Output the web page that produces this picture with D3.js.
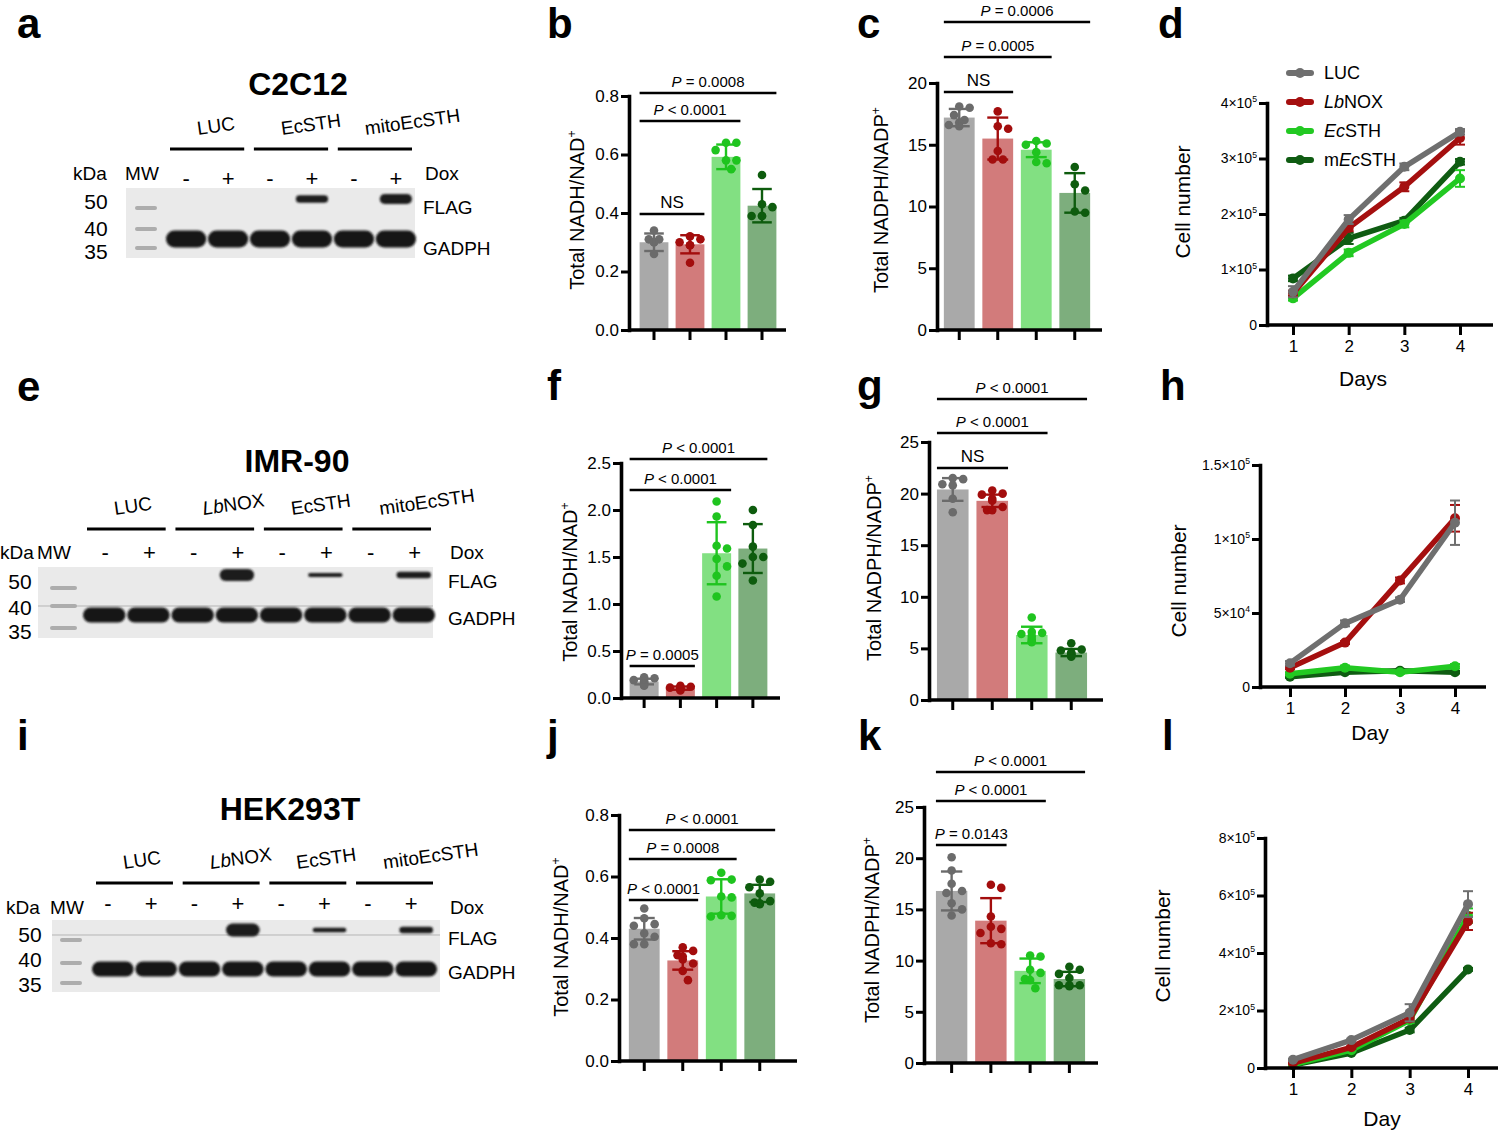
<!DOCTYPE html>
<html><head><meta charset="utf-8">
<script src="https://cdn.jsdelivr.net/npm/d3@7"></script>
<style>body{margin:0;background:#fff}svg{display:block}</style>
</head><body>
<svg id="fig" width="1500" height="1130" font-family="Arial, 'Liberation Sans', sans-serif"></svg>
<script>
// ---------------- DATA ----------------
const groups = ["LUC","LbNOX","EcSTH","mitoEcSTH"];
const legendLabels = ["LUC","*Lb*NOX","*Ec*STH","m*Ec*STH"];

// panel b (C2C12 NADH/NAD+)
const bPoints = [[0.34,0.31,0.31,0.30,0.30,0.26],[0.32,0.31,0.30,0.29,0.29,0.23],[0.64,0.64,0.615,0.58,0.58,0.55],[0.53,0.43,0.42,0.39,0.39,0.39]];
const bMean = [0.30,0.293,0.592,0.425];
const bSD = [0.03,0.031,0.042,0.057];
const bTicks = [0,0.2,0.4,0.6,0.8];
const bP = ["*P* = 0.0008","*P* < 0.0001","NS"];
const bPto = [3,2,1];

// panel c (C2C12 NADPH/NADP+)
const cPoints = [[18.1,18.0,17.4,17.0,16.8,16.6,16.5],[17.7,16.5,16.3,14.5,13.8,13.8],[15.3,15.1,15.0,14.4,13.6,13.5],[13.2,11.8,11.3,9.6,9.5]];
const cMean = [17.2,15.5,14.6,11.1];
const cSD = [0.7,1.7,0.6,1.6];
const cTicks = [0,5,10,15,20];
const cP = ["*P* = 0.0006","*P* = 0.0005","NS"];
const cPto = [3,2,1];

// panel d (C2C12 growth)
const days = [1,2,3,4];
const dLUC = [60000,190000,285000,348000], dLUCerr = [10000,8000,6000,5000];
const dLbNOX = [57000,175000,249000,337000], dLbNOXerr = [5000,6000,8000,12000];
const dEcSTH = [48000,130000,182000,264000], dEcSTHerr = [4000,6000,6000,15000];
const dmEcSTH = [84000,156000,188000,294000], dmEcSTHerr = [5000,10000,5000,5000];
const dTicks = [0,100000,200000,300000,400000];

// panel f (IMR-90 NADH/NAD+)
const fPoints = [[0.22,0.21,0.19,0.18,0.17,0.16,0.14,0.13],[0.13,0.12,0.11,0.11,0.10,0.10,0.09,0.08],[2.09,1.93,1.62,1.59,1.48,1.40,1.30,1.08],[2.0,1.84,1.61,1.50,1.50,1.43,1.25]];
const fMean = [0.175,0.105,1.54,1.59];
const fSD = [0.03,0.017,0.33,0.26];
const fTicks = [0,0.5,1.0,1.5,2.0,2.5];
const fP = ["*P* < 0.0001","*P* < 0.0001","*P* = 0.0005"];
const fPto = [3,2,1];

// panel g (IMR-90 NADPH/NADP+)
const gPoints = [[21.5,21.4,20.9,20.8,19.5,18.2],[20.3,20.0,19.9,19.5,19.3,18.7,18.4,18.4],[8.0,6.6,6.5,6.4,6.2,5.9,5.7,5.6],[5.5,4.9,4.8,4.6,4.5,4.4,4.3,4.2]];
const gMean = [20.4,19.3,6.3,4.6];
const gSD = [1.1,0.6,0.8,0.35];
const gTicks = [0,5,10,15,20,25];
const gP = ["*P* < 0.0001","*P* < 0.0001","NS"];
const gPto = [3,2,1];

// panel h (IMR-90 growth)
const hLUC = [16000,43000,59000,111000], hLUCerr = [1500,2000,1500,15000];
const hLbNOX = [13000,30000,72000,114000], hLbNOXerr = [1000,1000,2000,9000];
const hEcSTH = [9000,13000,10000,14000], hEcSTHerr = [1000,1500,1000,1500];
const hmEcSTH = [7000,10000,11000,10000], hmEcSTHerr = [800,800,800,800];
const hTicks = [0,50000,100000,150000];

// panel j (HEK293T NADH/NAD+)
const jPoints = [[0.496,0.464,0.445,0.44,0.415,0.404,0.38,0.38],[0.37,0.358,0.344,0.34,0.33,0.317,0.293,0.263],[0.612,0.59,0.588,0.535,0.532,0.474,0.472,0.47],[0.59,0.583,0.565,0.545,0.52,0.515,0.513,0.51]];
const jMean = [0.43,0.327,0.535,0.545];
const jSD = [0.035,0.03,0.056,0.028];
const jTicks = [0,0.2,0.4,0.6,0.8];
const jP = ["*P* < 0.0001","*P* = 0.0008","*P* < 0.0001"];
const jPto = [3,2,1];

// panel k (HEK293T NADPH/NADP+)
const kPoints = [[20.1,18.8,17.5,16.8,16.6,15.6,15.0,14.4],[17.4,17.1,14.3,13.3,13.1,12.7,11.7,11.6],[10.5,10.4,9.1,8.8,8.2,8.1,7.3],[9.4,9.1,8.7,8.3,7.6,7.6,7.5,7.6]];
const kMean = [16.8,13.9,9.0,8.2];
const kSD = [1.9,2.2,1.2,0.7];
const kTicks = [0,5,10,15,20,25];
const kP = ["*P* < 0.0001","*P* < 0.0001","*P* = 0.0143"];
const kPto = [3,2,1];

// panel l (HEK293T growth)
const lLUC = [29000,97000,192000,570000], lLUCerr = [3000,5000,30000,45000];
const lLbNOX = [17000,72000,172000,510000], lLbNOXerr = [2000,5000,10000,30000];
const lEcSTH = [12000,62000,166000,530000], lEcSTHerr = [2000,4000,10000,25000];
const lmEcSTH = [10000,52000,132000,343000], lmEcSTHerr = [2000,3000,8000,5000];
const lTicks = [0,200000,400000,600000,800000];

// western blots
const doxSigns = ["-","+"];
const mwLabels = ["50","40","35"];
const aGroups = ["LUC","EcSTH","mitoEcSTH"];
const aFlag = [0,0,0,0.75,0,1.0];
const eGroups = ["LUC","*Lb*NOX","EcSTH","mitoEcSTH"];
const eFlag = [0,0,0,1.0,0,0.35,0,0.55];
const iGroups = ["LUC","*Lb*NOX","EcSTH","mitoEcSTH"];
const iFlag = [0,0,0,1.0,0,0.35,0,0.5];

// ---------------- STYLE ----------------
const barFill = ["#a9a9a9","#d27b7b","#82e082","#7dae7d"];
const dotCol = ["#6b6b6b","#a30d0d","#1fc41f","#0e5c0e"];
const lineCol = ["#6f6f6f","#a50f0f","#22c922","#0f5c12"];

const svg = d3.select("#fig");

function rich(sel, str, fs) {
  const parts = str.split(/(\*[^*]+\*|\^[^^]+\^)/).filter(s => s.length);
  let shifted = 0;
  parts.forEach(p => {
    const ts = sel.append("tspan");
    if (p[0] === "*") {
      ts.text(p.slice(1, -1)).attr("font-style", "italic");
      if (shifted) { ts.attr("dy", shifted); shifted = 0; }
    } else if (p[0] === "^") {
      ts.text(p.slice(1, -1)).attr("font-size", fs * 0.62).attr("dy", -fs * 0.42);
      shifted = fs * 0.42;
    } else {
      ts.text(p);
      if (shifted) { ts.attr("dy", shifted); shifted = 0; }
    }
  });
  return sel;
}

// panel letters
const letters = [["a",17,38],["b",547,38],["c",857,38],["d",1158,38],["e",17,401],["f",547,400],["g",857,400],["h",1160,400],["i",17,750],["j",547,750],["k",858,750],["l",1162,750]];
svg.selectAll("text.letter").data(letters).join("text").attr("class","letter")
  .attr("x", d => d[1]).attr("y", d => d[2]).attr("font-size", 42).attr("font-weight", "bold").text(d => d[0]);

// ---------------- BAR PANELS ----------------
function barPanel(c) {
  const g = svg.append("g");
  const y = d3.scaleLinear().domain([0, c.max]).range([c.y0, c.y1]);
  const x = d3.scaleBand().domain(groups).range(c.band).paddingInner(0.2).paddingOuter(0.1);
  const bw = x.bandwidth();
  g.selectAll("rect.bar").data(groups).join("rect")
    .attr("x", d => x(d)).attr("width", bw)
    .attr("y", (d, i) => y(c.mean[i])).attr("height", (d, i) => c.y0 - y(c.mean[i]))
    .attr("fill", (d, i) => barFill[i]);
  const r = 4.3, minD = 9.4, step = 5.2, lim = bw / 2 - r + 1;
  groups.forEach((gn, i) => {
    const cx = x(gn) + bw / 2;
    const placed = [];
    c.points[i].forEach(v => {
      const py = y(v);
      let off = 0;
      for (let k = 0; k < 30; k++) {
        const o = k === 0 ? 0 : (k % 2 ? 1 : -1) * Math.ceil(k / 2) * step;
        if (Math.abs(o) > lim) continue;
        if (placed.every(p => Math.hypot(p[0] - o, p[1] - py) >= minD)) { off = o; break; }
      }
      placed.push([off, py]);
    });
    g.selectAll(null).data(placed).join("circle")
      .attr("cx", p => cx + p[0]).attr("cy", p => p[1]).attr("r", r).attr("fill", dotCol[i]);
    const top = y(c.mean[i] + c.sd[i]), bot = y(c.mean[i] - c.sd[i]), cw = bw * 0.34;
    const eg = g.append("g").attr("stroke", dotCol[i]).attr("stroke-width", 2.4);
    eg.append("line").attr("x1", cx).attr("x2", cx).attr("y1", top).attr("y2", bot);
    eg.append("line").attr("x1", cx - cw).attr("x2", cx + cw).attr("y1", top).attr("y2", top);
    eg.append("line").attr("x1", cx - cw).attr("x2", cx + cw).attr("y1", bot).attr("y2", bot);
  });
  // y axis
  const ya = g.append("g").attr("transform", `translate(${c.ax},0)`)
    .call(d3.axisLeft(y).tickValues(c.ticks).tickFormat(c.fmt).tickSize(8).tickSizeOuter(0).tickPadding(2));
  ya.select(".domain").attr("stroke-width", 3.6).attr("stroke-linecap", "square");
  ya.selectAll(".tick line").attr("stroke-width", 3);
  ya.selectAll(".tick text").attr("font-size", 17).attr("fill", "#000").attr("font-family", "Arial, 'Liberation Sans', sans-serif");
  // x axis
  g.append("line").attr("x1", c.ax).attr("x2", c.xEnd).attr("y1", c.y0).attr("y2", c.y0).attr("stroke", "#000").attr("stroke-width", 3.6);
  const xa = g.append("g").attr("transform", `translate(0,${c.y0})`)
    .call(d3.axisBottom(x).tickSize(10).tickSizeOuter(0).tickFormat(""));
  xa.select(".domain").remove();
  xa.selectAll(".tick line").attr("stroke-width", 3);
  // y label
  rich(g.append("text").attr("transform", `translate(${c.lx},${c.ly}) rotate(-90)`)
    .attr("text-anchor", "middle").attr("dy", "0.36em").attr("font-size", 20), c.label, 20);
  // significance brackets
  c.ann.forEach((t, k) => {
    const x1 = x(groups[0]), x2 = x(groups[c.annTo[k]]) + bw, yy = c.annY[k];
    g.append("line").attr("x1", x1).attr("x2", x2).attr("y1", yy).attr("y2", yy).attr("stroke", "#000").attr("stroke-width", 2.6);
    const fs = t === "NS" ? 17 : 15;
    rich(g.append("text").attr("x", (x1 + x2) / 2).attr("y", yy - 6).attr("text-anchor", "middle").attr("font-size", fs), t, fs);
  });
}

const f1 = d3.format(".1f"), f0 = d3.format("d");
barPanel({ax:629,y0:330,y1:96,max:0.8,ticks:bTicks,fmt:f1,xEnd:786,band:[636,780],points:bPoints,mean:bMean,sd:bSD,
  lx:577,ly:210,label:"Total NADH/NAD^+^",ann:bP,annTo:bPto,annY:[93,121,214]});
barPanel({ax:937,y0:330,y1:83,max:20,ticks:cTicks,fmt:f0,xEnd:1102,band:[940,1094],points:cPoints,mean:cMean,sd:cSD,
  lx:881,ly:200,label:"Total NADPH/NADP^+^",ann:cP,annTo:cPto,annY:[22,57,92]});
barPanel({ax:621,y0:698,y1:463,max:2.5,ticks:fTicks,fmt:f1,xEnd:780,band:[626,771],points:fPoints,mean:fMean,sd:fSD,
  lx:570,ly:582,label:"Total NADH/NAD^+^",ann:fP,annTo:fPto,annY:[459,490,666]});
barPanel({ax:929,y0:700,y1:442,max:25,ticks:gTicks,fmt:f0,xEnd:1103,band:[933,1091],points:gPoints,mean:gMean,sd:gSD,
  lx:874,ly:568,label:"Total NADPH/NADP^+^",ann:gP,annTo:gPto,annY:[399,433,468]});
barPanel({ax:619,y0:1061,y1:815,max:0.8,ticks:jTicks,fmt:f1,xEnd:797,band:[625,779],points:jPoints,mean:jMean,sd:jSD,
  lx:561,ly:937,label:"Total NADH/NAD^+^",ann:jP,annTo:jPto,annY:[830,859,900]});
barPanel({ax:924,y0:1063,y1:807,max:25,ticks:kTicks,fmt:f0,xEnd:1098,band:[932,1089],points:kPoints,mean:kMean,sd:kSD,
  lx:872,ly:930,label:"Total NADPH/NADP^+^",ann:kP,annTo:kPto,annY:[772,801,845]});

// ---------------- LINE PANELS ----------------
function sciLabel(v) {
  if (v === 0) return "0";
  const e = Math.floor(Math.log10(v) + 1e-9);
  const m = +(v / Math.pow(10, e)).toFixed(1);
  return `${m}×10^${e}^`;
}
function linePanel(c) {
  const g = svg.append("g");
  const x = d3.scaleLinear().domain([1, 4]).range(c.xr);
  const y = d3.scaleLinear().domain([0, c.max]).range([c.y0, c.y1]);
  const line = d3.line().x((d, i) => x(days[i])).y(d => y(d));
  [3, 2, 1, 0].forEach(s => {
    const col = lineCol[s], vals = c.series[s], errs = c.errs[s];
    const eg = g.append("g").attr("stroke", col).attr("stroke-width", 2);
    vals.forEach((v, i) => {
      const cx = x(days[i]), t = y(v + errs[i]), b = y(v - errs[i]);
      eg.append("line").attr("x1", cx).attr("x2", cx).attr("y1", t).attr("y2", b);
      eg.append("line").attr("x1", cx - 5).attr("x2", cx + 5).attr("y1", t).attr("y2", t);
      eg.append("line").attr("x1", cx - 5).attr("x2", cx + 5).attr("y1", b).attr("y2", b);
    });
    g.append("path").datum(vals).attr("d", line).attr("fill", "none").attr("stroke", col)
      .attr("stroke-width", 5.5).attr("stroke-linejoin", "round").attr("stroke-linecap", "round");
    g.selectAll(null).data(vals).join("circle").attr("cx", (d, i) => x(days[i])).attr("cy", d => y(d)).attr("r", 5).attr("fill", col);
  });
  const ya = g.append("g").attr("transform", `translate(${c.ax},0)`)
    .call(d3.axisLeft(y).tickValues(c.ticks).tickSize(8).tickSizeOuter(0).tickPadding(2));
  ya.select(".domain").attr("stroke-width", 3.6).attr("stroke-linecap", "square");
  ya.selectAll(".tick line").attr("stroke-width", 3);
  ya.selectAll(".tick text").attr("font-size", 14).attr("fill", "#000").attr("font-family", "Arial, 'Liberation Sans', sans-serif")
    .each(function (d) { const t = d3.select(this); t.text(null); rich(t, sciLabel(d), 14); });
  g.append("line").attr("x1", c.ax).attr("x2", c.xEnd).attr("y1", c.y0).attr("y2", c.y0).attr("stroke", "#000").attr("stroke-width", 3.6);
  const xa = g.append("g").attr("transform", `translate(0,${c.y0})`)
    .call(d3.axisBottom(x).tickValues(days).tickFormat(d3.format("d")).tickSize(10).tickSizeOuter(0).tickPadding(5));
  xa.select(".domain").remove();
  xa.selectAll(".tick line").attr("stroke-width", 3);
  xa.selectAll(".tick text").attr("font-size", 17).attr("fill", "#000").attr("font-family", "Arial, 'Liberation Sans', sans-serif");
  g.append("text").attr("transform", `translate(${c.lx},${c.ly}) rotate(-90)`).attr("text-anchor", "middle")
    .attr("dy", "0.36em").attr("font-size", 21).text("Cell number");
  g.append("text").attr("x", c.xlx).attr("y", c.xly).attr("text-anchor", "middle").attr("font-size", 21).text(c.xlabel);
  if (c.legend) {
    c.legend.forEach((lab, i) => {
      const ly = 73 + i * 29;
      g.append("line").attr("x1", 1289).attr("x2", 1311).attr("y1", ly).attr("y2", ly).attr("stroke", lineCol[i])
        .attr("stroke-width", 6).attr("stroke-linecap", "round");
      g.append("circle").attr("cx", 1300).attr("cy", ly).attr("r", 5).attr("fill", lineCol[i]);
      rich(g.append("text").attr("x", 1324).attr("y", ly).attr("dy", "0.36em").attr("font-size", 18), lab, 18);
    });
  }
}
linePanel({ax:1267,y0:325,y1:103,max:400000,ticks:dTicks,xr:[1293,1460],xEnd:1493,
  series:[dLUC,dLbNOX,dEcSTH,dmEcSTH],errs:[dLUCerr,dLbNOXerr,dEcSTHerr,dmEcSTHerr],
  lx:1182,ly:202,xlabel:"Days",xlx:1363,xly:386,legend:legendLabels});
linePanel({ax:1260,y0:687,y1:465,max:150000,ticks:hTicks,xr:[1290,1455],xEnd:1486,
  series:[hLUC,hLbNOX,hEcSTH,hmEcSTH],errs:[hLUCerr,hLbNOXerr,hEcSTHerr,hmEcSTHerr],
  lx:1178,ly:581,xlabel:"Day",xlx:1370,xly:740});
linePanel({ax:1265,y0:1068,y1:838,max:800000,ticks:lTicks,xr:[1293,1468],xEnd:1498,
  series:[lLUC,lLbNOX,lEcSTH,lmEcSTH],errs:[lLUCerr,lLbNOXerr,lEcSTHerr,lmEcSTHerr],
  lx:1162,ly:946,xlabel:"Day",xlx:1382,xly:1126});

// ---------------- WESTERN BLOTS ----------------
const defs = svg.append("defs");
defs.append("filter").attr("id", "blur").attr("x", "-20%").attr("y", "-50%").attr("width", "140%").attr("height", "200%")
  .append("feGaussianBlur").attr("stdDeviation", 1.1);

function blot(c) {
  const g = svg.append("g");
  const nl = c.flag.length;
  const lanes = d3.range(nl);
  const x = d3.scaleBand().domain(lanes).range(c.lanes).paddingInner(0.04);
  const bw = x.bandwidth();
  g.append("text").attr("x", c.titleX).attr("y", c.titleY).attr("text-anchor", "middle").attr("font-size", 32).attr("font-weight", "bold").text(c.title);
  g.append("rect").attr("x", c.bg[0]).attr("y", c.bg[1]).attr("width", c.bg[2] - c.bg[0]).attr("height", c.bg[3] - c.bg[1]).attr("fill", "#eaeaea");
  if (c.sep) g.append("line").attr("x1", c.bg[0]).attr("x2", c.bg[2]).attr("y1", c.sep).attr("y2", c.sep).attr("stroke", "#b5b5b5").attr("stroke-width", 1);
  // MW ladder
  c.mwY.forEach(yy => g.append("rect").attr("x", c.mwX[0]).attr("y", yy - 2).attr("width", c.mwX[1] - c.mwX[0]).attr("height", 4).attr("fill", "#adadad").attr("rx", 2));
  // GADPH bands
  g.selectAll(null).data(lanes).join("rect").attr("x", d => x(d)).attr("width", bw)
    .attr("y", c.gY - c.gH / 2).attr("height", c.gH).attr("rx", c.gH / 2).attr("fill", "#141414").attr("filter", "url(#blur)");
  // FLAG bands
  g.selectAll(null).data(lanes.filter(i => c.flag[i] > 0)).join("rect").attr("x", d => x(d) + 4).attr("width", bw - 8)
    .attr("y", d => c.fY - c.fH * c.flag[d] / 2).attr("height", d => c.fH * c.flag[d]).attr("rx", d => c.fH * c.flag[d] / 2)
    .attr("fill", "#1c1c1c").attr("filter", "url(#blur)");
  // Dox signs
  g.selectAll(null).data(lanes).join("text").attr("x", d => x(d) + bw / 2 + c.signDx).attr("y", c.signY).attr("text-anchor", "middle")
    .attr("font-size", 22).text(d => doxSigns[d % 2]);
  // group underlines + labels
  c.groups.forEach((lab, k) => {
    const x1 = x(2 * k) + 4, x2 = x(2 * k + 1) + bw - 4;
    g.append("line").attr("x1", x1).attr("x2", x2).attr("y1", c.ulY).attr("y2", c.ulY).attr("stroke", "#000").attr("stroke-width", 3);
    const tx = x1 + 28, ty = c.ulY - 14;
    rich(g.append("text").attr("x", tx).attr("y", ty).attr("font-size", 19).attr("transform", `rotate(-8,${tx},${ty})`), lab, 19);
  });
  // side labels
  g.append("text").attr("x", c.kdaX).attr("y", c.kdaY).attr("text-anchor", "middle").attr("font-size", 19).text("kDa");
  g.append("text").attr("x", c.mwTX).attr("y", c.kdaY).attr("text-anchor", "middle").attr("font-size", 19).text("MW");
  g.append("text").attr("x", c.doxX).attr("y", c.kdaY).attr("font-size", 19).text("Dox");
  mwLabels.forEach((m, k) => g.append("text").attr("x", c.numX).attr("y", c.numY[k]).attr("text-anchor", "middle").attr("font-size", 21).text(m));
  g.append("text").attr("x", c.doxX - 2).attr("y", c.flagTY).attr("font-size", 19).text("FLAG");
  g.append("text").attr("x", c.doxX - 2).attr("y", c.gadTY).attr("font-size", 19).text("GADPH");
}
blot({title:"C2C12",titleX:298,titleY:95,flag:aFlag,groups:aGroups,lanes:[166,416],bg:[126,188,415,258],
  mwX:[135,157],mwY:[208,229,248],gY:239,gH:17,fY:199,fH:10,signY:186,signDx:0,ulY:149,
  kdaX:90,kdaY:180,mwTX:142,doxX:425,numX:96,numY:[209,236,259],flagTY:214,gadTY:255});
blot({title:"IMR-90",titleX:297,titleY:472,flag:eFlag,groups:eGroups,lanes:[83,435],bg:[38,567,433,638],sep:606,
  mwX:[50,77],mwY:[588,606,628],gY:615,gH:15,fY:575,fH:12,signY:560,signDx:1,ulY:529,
  kdaX:17,kdaY:559,mwTX:54,doxX:450,numX:20,numY:[589,615,639],flagTY:588,gadTY:625});
blot({title:"HEK293T",titleX:290,titleY:820,flag:iFlag,groups:iGroups,lanes:[92,437],bg:[52,920,440,992],sep:935,
  mwX:[60,82],mwY:[940,963,983],gY:969,gH:15,fY:930,fH:13,signY:911,signDx:-5,ulY:883,
  kdaX:23,kdaY:914,mwTX:67,doxX:450,numX:30,numY:[942,967,992],flagTY:945,gadTY:979});
</script>
</body></html>
